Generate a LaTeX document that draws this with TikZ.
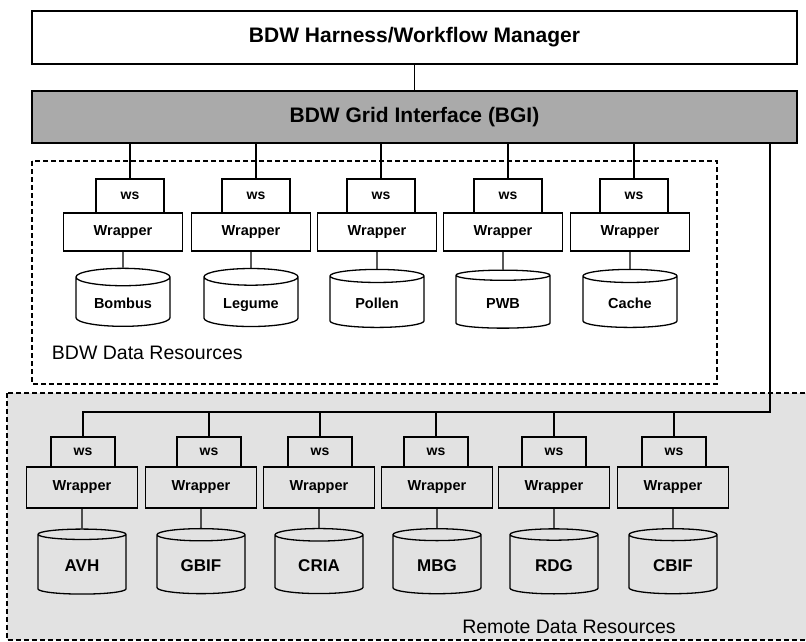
\documentclass[tikz,border=0pt]{standalone}
\usepackage{fontspec}
\setmainfont{Liberation Sans}
\usepackage{tikz}
\usetikzlibrary{shapes.geometric}
\definecolor{gris}{RGB}{170,170,170}
\definecolor{grisclair}{RGB}{226,226,226}

\begin{document}
\begin{tikzpicture}[x=1pt,y=-1pt,line width=1.3pt,
boite/.style={draw, rectangle, inner sep=0pt},
wsbox/.style={boite, minimum width=68pt, font=\fontsize{14}{14}\selectfont\bfseries},
wrapbox/.style={boite, minimum width=118pt, font=\fontsize{14.5}{15}\selectfont\bfseries},
base/.style={draw, cylinder, shape border rotate=90, aspect=0.3, inner sep=0pt, text height=1.55em, text depth=0.2em, font=\bfseries},
cadre/.style={dash pattern=on 5pt off 3pt}]
\useasboundingbox (0,0) rectangle (806,641);
\clip (0,0) rectangle (806,641);
%zone des ressources distantes
\filldraw [cadre, fill=grisclair] (7,393) rectangle (815,640);
\draw [cadre] (32,161) rectangle (717,384);
\node [boite, minimum width=765pt, minimum height=53pt, font=\fontsize{21}{22}\selectfont\bfseries] (H) at (414.5,37.5) {BDW Harness/Workflow Manager};
\node [boite, fill=gris, minimum width=765pt, minimum height=52pt, font=\fontsize{21}{22}\selectfont\bfseries] (G) at (414.5,117) {BDW Grid Interface (BGI)};
\draw (H.south) -- (G.north);
\node [anchor=west, font=\fontsize{19.5}{20}\selectfont] (L1) at (48,353) {BDW Data Resources};
\node [font=\fontsize{19.5}{20}\selectfont] (L2) at (569,627) {Remote Data Resources};
%ressources BDW
\foreach \n/\xw/\xd/\nom in {1/130/123/Bombus, 2/256/251/Legume, 3/381/377/Pollen, 4/508/503/PWB, 5/634/630/Cache}
{
\node [wsbox, minimum height=34pt] (ws\n) at (\xw,196) {ws};
\node [wrapbox, minimum width=119pt, minimum height=38pt] (wr\n) at (\xd,232) {Wrapper};
\node [base, minimum width=94pt, minimum height=58pt, font=\fontsize{14.5}{15}\selectfont\bfseries] (db\n) at (\xd,302) {\nom};
\draw (G.south -| ws\n.north) -- (ws\n.north);
\draw (wr\n.south) -- (db\n.north);
}
%ressources distantes
\foreach \n/\xw/\xd/\nom in {1/83/82/AVH, 2/209/201/GBIF, 3/320/319/CRIA, 4/436/437/MBG, 5/554/554/RDG, 6/674/673/CBIF}
{
\node [wsbox, minimum width=64pt, minimum height=30pt] (rws\n) at (\xw,452) {ws};
\node [wrapbox, minimum width=111pt, minimum height=41pt] (rwr\n) at (\xd,487.5) {Wrapper};
\node [base, minimum width=88pt, minimum height=65pt, font=\fontsize{17}{18}\selectfont\bfseries] (rdb\n) at (\xd,564.5) {\nom};
\draw (rwr\n.south) -- (rdb\n.north);
}
\coordinate (bus) at (770,412);
\draw (G.south -| bus) -- (bus) -- (bus -| rws1.north) -- (rws1.north);
\foreach \n in {2,...,6}
{
\draw (bus -| rws\n.north) -- (rws\n.north);
}
\end{tikzpicture}
\end{document}
